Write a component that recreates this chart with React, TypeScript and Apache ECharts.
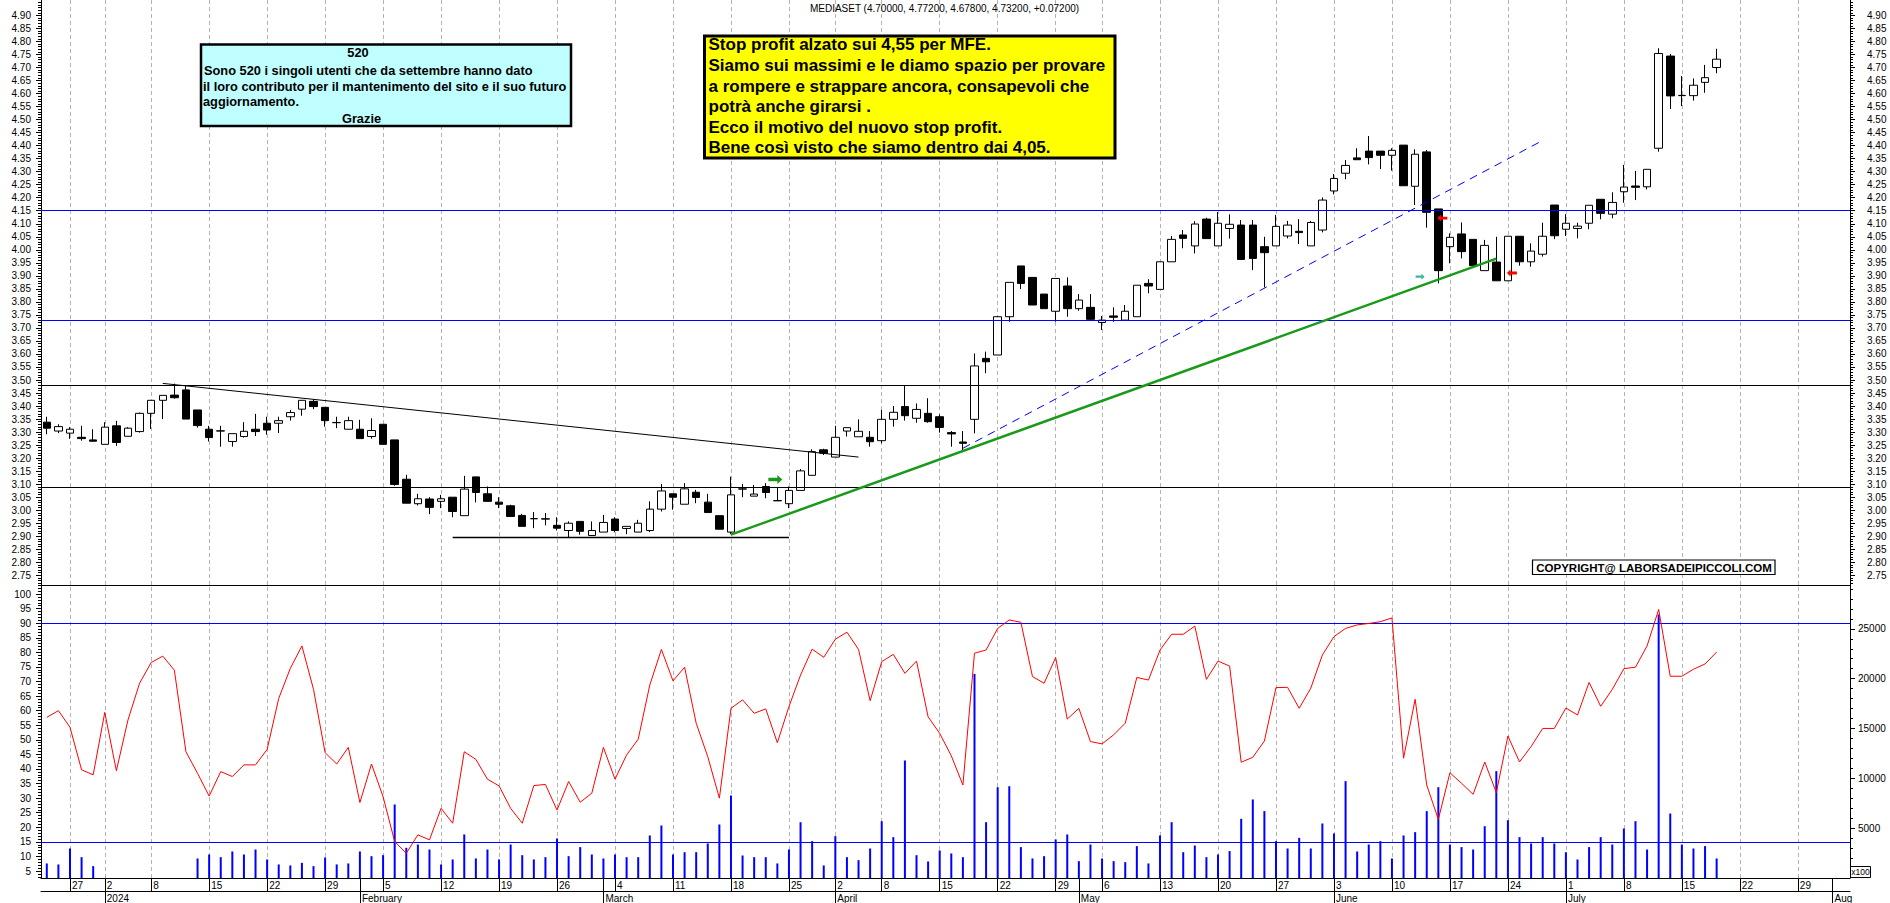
import React, { useEffect, useRef } from 'react';
import * as echarts from 'echarts';

const FONT = "'Liberation Sans', Arial, Helvetica, sans-serif";

// ---------- categories: Borsa Italiana trading days ----------
const tradingDays: [string, number[]][] = [
  ['2023-12', [21, 22, 27, 28, 29]],
  ['2024-01', [2, 3, 4, 5, 8, 9, 10, 11, 12, 15, 16, 17, 18, 19, 22, 23, 24, 25, 26, 29, 30, 31]],
  ['2024-02', [1, 2, 5, 6, 7, 8, 9, 12, 13, 14, 15, 16, 19, 20, 21, 22, 23, 26, 27, 28, 29]],
  ['2024-03', [1, 4, 5, 6, 7, 8, 11, 12, 13, 14, 15, 18, 19, 20, 21, 22, 25, 26, 27, 28]],
  ['2024-04', [2, 3, 4, 5, 8, 9, 10, 11, 12, 15, 16, 17, 18, 19, 22, 23, 24, 25, 26, 29, 30]],
  ['2024-05', [2, 3, 6, 7, 8, 9, 10, 13, 14, 15, 16, 17, 20, 21, 22, 23, 24, 27, 28, 29, 30, 31]],
  ['2024-06', [3, 4, 5, 6, 7, 10, 11, 12, 13, 14, 17, 18, 19, 20, 21, 24, 25, 26, 27, 28]],
  ['2024-07', [1, 2, 3, 4, 5, 8, 9, 10, 11, 12, 15, 16, 17, 18, 19, 22, 23, 24, 25, 26, 29, 30, 31]],
  ['2024-08', [1, 2]],
];

const monthLabels: Record<string, string> = {
  '01': '2024', '02': 'February', '03': 'March', '04': 'April',
  '05': 'May', '06': 'June', '07': 'July', '08': 'Aug',
};

// ---------- price data (MEDIASET) ----------
const opens = [
  3.338, 3.304, 3.296, 3.280, 3.270, 3.253, 3.324, 3.284, 3.302, 3.372,
  3.422, 3.442, 3.462, 3.385, 3.311, 3.304, 3.264, 3.283, 3.311, 3.334,
  3.334, 3.359, 3.388, 3.418, 3.395, 3.336, 3.311, 3.311, 3.283, 3.330,
  3.270, 3.119, 3.025, 3.043, 3.034, 3.050, 2.979, 3.128, 3.063, 3.031,
  3.017, 2.980, 2.967, 2.967, 2.942, 2.922, 2.957, 2.903, 2.916, 2.966,
  2.930, 2.916, 2.922, 3.004, 3.063, 3.023, 3.069, 3.031, 2.979, 2.916,
  3.081, 3.054, 3.091, 3.036, 3.025, 3.076, 3.134, 3.232, 3.204, 3.304,
  3.282, 3.280, 3.267, 3.349, 3.398, 3.353, 3.372, 3.359, 3.298, 3.262,
  3.349, 3.583, 3.596, 3.743, 3.938, 3.894, 3.830, 3.764, 3.861, 3.774,
  3.779, 3.721, 3.746, 3.730, 3.743, 3.871, 3.848, 3.954, 4.057, 4.015,
  4.118, 4.015, 4.082, 4.095, 4.095, 4.012, 4.015, 4.053, 4.071, 4.015,
  4.076, 4.226, 4.294, 4.353, 4.379, 4.379, 4.363, 4.402, 4.244, 4.376,
  4.157, 4.012, 4.061, 4.040, 3.920, 3.953, 3.881, 4.052, 3.954, 3.983,
  4.172, 4.079, 4.082, 4.102, 4.194, 4.137, 4.223, 4.245, 4.242, 4.390,
  4.744, 4.592, 4.592, 4.643, 4.700,
];
const highs = [
  3.359, 3.330, 3.319, 3.324, 3.311, 3.338, 3.343, 3.319, 3.375, 3.422,
  3.441, 3.486, 3.478, 3.385, 3.324, 3.324, 3.294, 3.338, 3.370, 3.359,
  3.359, 3.385, 3.422, 3.426, 3.395, 3.359, 3.359, 3.347, 3.353, 3.330,
  3.270, 3.136, 3.063, 3.050, 3.059, 3.050, 3.132, 3.128, 3.091, 3.050,
  3.021, 2.986, 2.993, 2.989, 2.973, 2.957, 2.957, 2.957, 2.982, 2.973,
  2.938, 2.963, 3.034, 3.101, 3.063, 3.104, 3.078, 3.063, 2.979, 3.129,
  3.101, 3.097, 3.104, 3.087, 3.091, 3.158, 3.234, 3.236, 3.324, 3.317,
  3.349, 3.304, 3.385, 3.400, 3.478, 3.410, 3.430, 3.368, 3.304, 3.304,
  3.602, 3.609, 3.746, 3.875, 3.938, 3.894, 3.830, 3.890, 3.894, 3.830,
  3.830, 3.746, 3.779, 3.788, 3.864, 3.887, 3.954, 4.053, 4.076, 4.110,
  4.123, 4.145, 4.136, 4.114, 4.114, 4.050, 4.134, 4.111, 4.118, 4.111,
  4.201, 4.291, 4.345, 4.390, 4.437, 4.379, 4.390, 4.402, 4.386, 4.383,
  4.157, 4.063, 4.105, 4.040, 4.038, 4.050, 4.052, 4.052, 4.025, 4.104,
  4.172, 4.137, 4.104, 4.171, 4.194, 4.221, 4.326, 4.303, 4.309, 4.774,
  4.752, 4.667, 4.658, 4.710, 4.772,
];
const lows = [
  3.292, 3.296, 3.274, 3.267, 3.264, 3.253, 3.247, 3.284, 3.298, 3.312,
  3.350, 3.428, 3.350, 3.317, 3.264, 3.244, 3.244, 3.279, 3.285, 3.290,
  3.296, 3.344, 3.363, 3.388, 3.321, 3.315, 3.311, 3.275, 3.275, 3.253,
  3.094, 3.027, 3.018, 2.985, 3.008, 2.973, 2.979, 3.030, 3.034, 3.008,
  2.976, 2.938, 2.931, 2.942, 2.922, 2.897, 2.906, 2.903, 2.916, 2.915,
  2.908, 2.916, 2.916, 2.995, 3.002, 3.023, 3.027, 2.991, 2.927, 2.908,
  3.050, 3.054, 3.046, 3.036, 3.008, 3.076, 3.134, 3.212, 3.204, 3.283,
  3.282, 3.244, 3.257, 3.321, 3.344, 3.336, 3.336, 3.298, 3.244, 3.231,
  3.295, 3.526, 3.596, 3.724, 3.849, 3.788, 3.774, 3.724, 3.743, 3.766,
  3.728, 3.692, 3.724, 3.730, 3.743, 3.833, 3.848, 3.954, 4.006, 3.986,
  4.043, 4.015, 4.043, 3.963, 3.922, 3.856, 4.015, 4.044, 4.022, 4.015,
  4.067, 4.213, 4.271, 4.346, 4.328, 4.310, 4.304, 4.246, 4.172, 4.085,
  3.871, 3.948, 3.967, 3.939, 3.920, 3.881, 3.881, 3.939, 3.935, 3.974,
  4.041, 4.053, 4.044, 4.079, 4.117, 4.121, 4.181, 4.191, 4.232, 4.377,
  4.541, 4.552, 4.573, 4.603, 4.678,
];
const closes = [
  3.315, 3.321, 3.311, 3.275, 3.265, 3.319, 3.260, 3.315, 3.372, 3.422,
  3.441, 3.432, 3.350, 3.325, 3.279, 3.305, 3.294, 3.303, 3.302, 3.308,
  3.344, 3.375, 3.422, 3.398, 3.344, 3.337, 3.344, 3.275, 3.306, 3.253,
  3.099, 3.027, 3.044, 3.011, 3.044, 2.995, 3.081, 3.068, 3.034, 3.023,
  2.976, 2.938, 2.968, 2.966, 2.931, 2.950, 2.919, 2.922, 2.953, 2.922,
  2.938, 2.950, 3.004, 3.074, 3.050, 3.082, 3.049, 2.991, 2.927, 3.059,
  3.082, 3.062, 3.068, 3.037, 3.076, 3.151, 3.225, 3.219, 3.280, 3.317,
  3.303, 3.263, 3.349, 3.376, 3.363, 3.387, 3.340, 3.318, 3.293, 3.257,
  3.554, 3.570, 3.743, 3.875, 3.871, 3.788, 3.774, 3.890, 3.774, 3.807,
  3.733, 3.730, 3.741, 3.764, 3.864, 3.861, 3.954, 4.040, 4.044, 4.099,
  4.043, 4.102, 4.098, 3.963, 3.967, 3.989, 4.090, 4.095, 4.066, 4.105,
  4.191, 4.274, 4.324, 4.346, 4.354, 4.363, 4.382, 4.246, 4.367, 4.144,
  3.920, 4.048, 3.993, 3.939, 4.017, 3.881, 4.052, 3.954, 3.995, 4.052,
  4.054, 4.102, 4.091, 4.171, 4.140, 4.182, 4.241, 4.240, 4.309, 4.754,
  4.591, 4.593, 4.632, 4.661, 4.732,
];

// ---------- indicator data ----------
const rsi = [
  57.7, 60, 54.3, 39.7, 38, 59.4, 39.4, 56.8, 69.4, 76.5,
  78.7, 73.9, 45.9, 38.5, 30.7, 39.1, 37.4, 41.4, 41.4, 46.7,
  64.2, 74.5, 82.2, 67.3, 45.6, 41.7, 47.4, 28.5, 41.7, 30.5,
  15.1, 11.1, 17.4, 15.7, 26.5, 21.4, 45.9, 43.3, 36.5, 34.2,
  26.5, 21.4, 34.3, 34.7, 25.9, 35.7, 28.6, 31.7, 47.4, 36.5,
  44.8, 50.2, 68.8, 81, 70.2, 74.9, 55.7, 44.2, 30, 60.8,
  63.7, 59.1, 60.6, 49, 61.4, 72.2, 81.1, 78.3, 84.5, 86.9,
  81, 63.4, 76.8, 79.3, 72.8, 77, 57.9, 52.2, 44.5, 34.5,
  79.7, 80.8, 88.2, 91.1, 90.3, 71.7, 69.4, 78.2, 57.1, 60.8,
  49.4, 48.6, 51.7, 55.7, 71.4, 70.5, 80.8, 86.2, 86.2, 89,
  70.7, 77, 75.3, 42.3, 44, 49.6, 67.9, 68, 60.8, 67.7,
  79.1, 85.4, 88.2, 89.4, 89.9, 90.5, 91.8, 43.7, 63.9, 34.5,
  22.7, 38.7, 35.1, 31.3, 42.4, 31.9, 51.3, 42.4, 47.7, 53.9,
  53.9, 60.9, 58.5, 69.7, 61.5, 67.3, 74.4, 74.9, 82.2, 94.7,
  71.8, 71.8, 74.2, 76, 80.1,
];
const volume = [
  1460, 1360, 2960, 2090, 1190, null, null, null, null, null,
  null, null, null, 1960, 2360, 2090, 2660, 2360, 2860, 1860,
  1360, 1260, 1520, 1190, 2060, 1360, 1460, 2660, 2190, 2290,
  7380, 3030, 3360, 2860, 1360, 1860, 4370, 1960, 2860, 1860,
  3360, 2290, 1860, 2090, 3970, 2190, 3100, 2360, 1960, 2360,
  2090, 2090, 4270, 5270, 2360, 2590, 2590, 3460, 5370, 8280,
  2260, 2090, 2090, 1460, 2860, 5600, 3700, 1260, 4200, 2090,
  1790, 2960, 5700, 4100, 11790, 2290, 1660, 2760, 2460, 2090,
  20480, 5600, 9110, 9210, 3100, 1960, 2190, 3870, 4370, 1690,
  3360, 1960, 1690, 1590, 3200, 1460, 4270, 5600, 2590, 3260,
  2090, 2360, 2700, 5940, 7880, 6710, 3700, 2960, 4030, 2960,
  5470, 4470, 9720, 2660, 3360, 3700, 1960, 4270, 4600, 6710,
  9110, 3360, 3100, 2860, 5200, 10720, 5800, 4100, 3460, 4100,
  3460, 2590, 1860, 3100, 4100, 3360, 4970, 5700, 2860, 26430,
  6470, 3360, 2960, 3200, 1960,
];

// ---------- drawn levels / trendlines (index, price) ----------
const blueLevels = [4.149, 3.735];
const blackLevels = [3.481, 3.094];
const resistanceLine: [number, number][] = [[10, 3.487], [70, 3.204]];
const supportLine: [number, number][] = [[35, 2.897], [64, 2.897]];
const uptrendLine: [number, number][] = [[59, 2.906], [125, 3.966]];
const channelLine: [number, number][] = [[79, 3.238], [129, 4.42]];
const rsiLevels = [90, 15];
const arrows = [
  { i: 63, v: 3.118, dir: 'right', color: '#1a9a1a', size: [14, 9], off: [-2, 0] },
  { i: 118, v: 3.897, dir: 'right', color: '#3cb4a0', size: [9, 6], off: [5, 0] },
  { i: 120, v: 4.122, dir: 'left', color: '#ff0000', size: [10, 7], off: [4, 0] },
  { i: 126, v: 3.911, dir: 'left', color: '#ff0000', size: [10, 7], off: [4, 0] },
];

// ---------- tick labels ----------
const priceTicks = [
  2.75, 2.8, 2.85, 2.9, 2.95, 3, 3.05, 3.1, 3.15, 3.2, 3.25, 3.3, 3.35, 3.4, 3.45,
  3.5, 3.55, 3.6, 3.65, 3.7, 3.75, 3.8, 3.85, 3.9, 3.95, 4, 4.05, 4.1, 4.15, 4.2,
  4.25, 4.3, 4.35, 4.4, 4.45, 4.5, 4.55, 4.6, 4.65, 4.7, 4.75, 4.8, 4.85, 4.9,
];
const rsiTicks = [5, 10, 15, 20, 25, 30, 35, 40, 45, 50, 55, 60, 65, 70, 75, 80, 85, 90, 95, 100];
const volTicks = [5000, 10000, 15000, 20000, 25000];

// axis ranges matching the panel geometry
const PMIN = 2.7128, PMAX = 4.9593;
const RMIN = 2.61, RMAX = 103.09;
const VMIN = 0, VMAX = 29400;

const priceMinor: number[] = [];
for (let k = 272; k <= 495; k++) priceMinor.push(k / 100);
const rsiMinor: number[] = [];
for (let k = 3; k <= 103; k++) rsiMinor.push(k);
const volMinor: number[] = [];
for (let k = 1; k <= 29; k++) volMinor.push(k * 1000);

const categories: string[] = [];
tradingDays.forEach(([ym, days]) =>
  days.forEach((d) => categories.push(`${ym}-${String(d).padStart(2, '0')}`))
);
const toDate = (s: string) => new Date(s + 'T00:00:00Z');
const isWeekStart = categories.map((c, i) => {
  if (i === 0) return false;
  const a = toDate(categories[i - 1]);
  const b = toDate(c);
  return b.getUTCDay() <= a.getUTCDay() || b.getTime() - a.getTime() >= 7 * 864e5;
});
const isMonthStart = categories.map((c, i) => i > 0 && c.slice(5, 7) !== categories[i - 1].slice(5, 7));
const weekIdx = categories.map((_, i) => i).filter((i) => isWeekStart[i]);

const RIGHT_ARROW = 'path://M0,3 L9,3 L9,0 L14,5 L9,10 L9,7 L0,7 Z';
const LEFT_ARROW = 'path://M14,3 L5,3 L5,0 L0,5 L5,10 L5,7 L14,7 Z';

function buildOption(): any {
  const gridDash = { color: '#b4b4b4', width: 1, type: [4, 3] };
  const vLines = weekIdx.map((i) => ({ xAxis: categories[i] }));
  const nulls = categories.map(() => null);
  const seg = (pts: [number, number][], ls: any) => [
    { coord: [categories[pts[0][0]], pts[0][1]], lineStyle: ls },
    { coord: [categories[pts[1][0]], pts[1][1]], lineStyle: ls },
  ];

  const yMain = (grid: number, pos: string, min: number, max: number, ticks: number[], margin: number, fmt: (v: number) => string) => ({
    type: 'value', gridIndex: grid, position: pos, min, max,
    axisLine: { show: true, onZero: false, lineStyle: { color: '#000', width: 1 } },
    axisTick: { show: true, length: 5, customValues: ticks, lineStyle: { color: '#000', width: 1 } },
    axisLabel: { show: true, customValues: ticks, margin, fontSize: 10, color: '#000', fontFamily: FONT, formatter: fmt },
    splitLine: { show: false },
  });
  const yMinor = (grid: number, pos: string, min: number, max: number, ticks: number[]) => ({
    type: 'value', gridIndex: grid, position: pos, min, max,
    axisLine: { show: false, onZero: false },
    axisTick: { show: true, length: 3, customValues: ticks, lineStyle: { color: '#000', width: 1 } },
    axisLabel: { show: false },
    splitLine: { show: false },
  });
  const priceFmt = (v: number) => v.toFixed(2);
  const intFmt = (v: number) => String(Math.round(v));

  const txt = (text: string, x: number, y: number, size: number, weight: string, align = 'left', family = FONT) => ({
    type: 'text', z: 101, silent: true,
    style: { text, x, y, fill: '#000', fontSize: size, fontWeight: weight, fontFamily: family, align, verticalAlign: 'middle', textAlign: align, textVerticalAlign: 'middle' },
  });

  const yellowLines = [
    'Stop profit alzato sui 4,55 per MFE.',
    'Siamo sui massimi e le diamo spazio per provare',
    'a rompere e strappare ancora, consapevoli che',
    'potrà anche girarsi .',
    'Ecco il motivo del nuovo stop profit.',
    'Bene così visto che siamo dentro dai 4,05.',
  ];
  const yellowY = [44, 65.5, 86, 106.5, 127, 147.5];

  const gridMarkLine = {
    silent: true, z: 0, zlevel: 0, symbol: ['none', 'none'], label: { show: false },
    lineStyle: gridDash, data: vLines,
  };

  return {
    animation: false,
    textStyle: { fontFamily: FONT },
    grid: [
      { left: 41, right: 40, top: 0, height: 585, containLabel: false, outerBoundsMode: 'none' },
      { left: 41, right: 40, top: 585, height: 293, containLabel: false, outerBoundsMode: 'none' },
    ],
    xAxis: [
      {
        type: 'category', gridIndex: 0, data: categories, boundaryGap: true, position: 'bottom',
        axisLine: { show: true, onZero: false, lineStyle: { color: '#000', width: 1 } },
        axisTick: { show: false }, axisLabel: { show: false }, splitLine: { show: false },
      },
      {
        type: 'category', gridIndex: 1, data: categories, boundaryGap: true, position: 'bottom',
        axisLine: { show: true, onZero: false, lineStyle: { color: '#000', width: 1 } },
        axisTick: {
          show: true, alignWithLabel: true, length: 13, lineStyle: { color: '#000', width: 1 },
          interval: (i: number) => isWeekStart[i] || isMonthStart[i],
        },
        axisLabel: {
          show: true, interval: (i: number) => isWeekStart[i], align: 'left', margin: 2,
          padding: [0, 0, 0, 2], fontSize: 10, color: '#000', fontFamily: FONT,
          formatter: (v: string) => String(Number(v.slice(8, 10))),
        },
        splitLine: { show: false },
      },
      {
        type: 'category', gridIndex: 1, data: categories, boundaryGap: true, position: 'bottom', offset: 13,
        axisLine: { show: true, onZero: false, lineStyle: { color: '#000', width: 1 } },
        axisTick: {
          show: true, alignWithLabel: true, length: 13, lineStyle: { color: '#000', width: 1 },
          interval: (i: number) => isMonthStart[i],
        },
        axisLabel: {
          show: true, interval: (i: number) => isMonthStart[i], align: 'left', margin: 2,
          padding: [0, 0, 0, 2], fontSize: 10, color: '#000', fontFamily: FONT,
          formatter: (v: string) => monthLabels[v.slice(5, 7)] || '',
        },
        splitLine: { show: false },
      },
    ],
    yAxis: [
      yMain(0, 'left', PMIN, PMAX, priceTicks, 10, priceFmt),
      yMinor(0, 'left', PMIN, PMAX, priceMinor),
      yMain(0, 'right', PMIN, PMAX, priceTicks, 17, priceFmt),
      yMinor(0, 'right', PMIN, PMAX, priceMinor),
      yMain(1, 'left', RMIN, RMAX, rsiTicks, 10, intFmt),
      yMinor(1, 'left', RMIN, RMAX, rsiMinor),
      yMain(1, 'right', VMIN, VMAX, volTicks, 8, intFmt),
      yMinor(1, 'right', VMIN, VMAX, volMinor),
    ],
    series: [
      {
        name: 'grid-top', type: 'line', xAxisIndex: 0, yAxisIndex: 0, data: nulls, symbol: 'none', silent: true, z: 0,
        markLine: gridMarkLine,
      },
      {
        name: 'MEDIASET', type: 'candlestick', xAxisIndex: 0, yAxisIndex: 0, z: 3, barWidth: 8,
        data: opens.map((o, i) => [o, closes[i], lows[i], highs[i]]),
        itemStyle: {
          color: '#ffffff', color0: '#000000', borderColor: '#000000', borderColor0: '#000000',
          borderColorDoji: '#000000', borderWidth: 1,
        },
        emphasis: { disabled: true },
        markLine: {
          silent: true, symbol: ['none', 'none'], label: { show: false },
          data: [
            ...blueLevels.map((v) => ({ yAxis: v, lineStyle: { color: '#0000ff', width: 1, type: 'solid' } })),
            ...blackLevels.map((v) => ({ yAxis: v, lineStyle: { color: '#000000', width: 1, type: 'solid' } })),
            seg(resistanceLine, { color: '#000000', width: 1, type: 'solid' }),
            seg(supportLine, { color: '#000000', width: 1.3, type: 'solid' }),
            seg(uptrendLine, { color: '#1a9a1a', width: 2.5, type: 'solid' }),
            seg(channelLine, { color: '#0000ff', width: 1, type: [8, 6] }),
          ],
        },
        markPoint: {
          silent: true, label: { show: false },
          data: arrows.map((a) => ({
            coord: [categories[a.i], a.v],
            symbol: a.dir === 'right' ? RIGHT_ARROW : LEFT_ARROW,
            symbolSize: a.size, symbolOffset: a.off, symbolKeepAspect: false,
            itemStyle: { color: a.color },
          })),
        },
      },
      {
        name: 'grid-bottom', type: 'line', xAxisIndex: 1, yAxisIndex: 4, data: nulls, symbol: 'none', silent: true, z: 0,
        markLine: gridMarkLine,
      },
      {
        name: 'Volume', type: 'bar', xAxisIndex: 1, yAxisIndex: 6, data: volume, barWidth: 2, silent: true, z: 6,
        itemStyle: { color: '#0000ff' },
      },
      {
        name: 'RSI', type: 'line', xAxisIndex: 1, yAxisIndex: 4, data: rsi, symbol: 'none', silent: true, z: 7,
        lineStyle: { color: '#ff0000', width: 1 },
        markLine: {
          silent: true, symbol: ['none', 'none'], label: { show: false },
          lineStyle: { color: '#0000ff', width: 1, type: 'solid' },
          data: rsiLevels.map((v) => ({ yAxis: v })),
        },
      },
    ],
    graphic: {
      elements: [
        txt('MEDIASET (4.70000, 4.77200, 4.67800, 4.73200, +0.07200)', 944.5, 8.5, 10, 'normal', 'center'),
        // cyan box
        { type: 'rect', z: 100, silent: true, shape: { x: 201, y: 44.5, width: 370, height: 81.5 }, style: { fill: '#c0ffff', stroke: '#000', lineWidth: 2.5 } },
        txt('520', 358, 52.5, 12.8, 'bold', 'center'),
        txt('Sono 520 i singoli utenti che da settembre hanno dato', 204, 70, 12.8, 'bold'),
        txt('il loro contributo per il mantenimento del sito e il suo futuro', 203, 86, 12.8, 'bold'),
        txt('aggiornamento.', 203, 101.7, 12.8, 'bold'),
        txt('Grazie', 361.5, 118.3, 12.8, 'bold', 'center'),
        // yellow box
        { type: 'rect', z: 100, silent: true, shape: { x: 704.5, y: 36, width: 410.5, height: 122 }, style: { fill: '#ffff00', stroke: '#000', lineWidth: 3 } },
        ...yellowLines.map((t, k) => txt(t, 708.5, yellowY[k], 17, 'bold')),
        // copyright
        { type: 'rect', z: 100, silent: true, shape: { x: 1532.5, y: 560, width: 242.5, height: 14.5 }, style: { fill: '#ffffff', stroke: '#000', lineWidth: 1.2 } },
        txt('COPYRIGHT@ LABORSADEIPICCOLI.COM', 1654, 567.5, 11.5, 'bold', 'center'),
        // x100 box
        { type: 'rect', z: 100, silent: true, shape: { x: 1850.5, y: 866.5, width: 20, height: 11 }, style: { fill: '#ffffff', stroke: '#000', lineWidth: 1 } },
        txt('x100', 1860.5, 872.2, 8.5, 'normal', 'center'),
      ],
    },
  };
}

export default function App() {
  const ref = useRef<HTMLDivElement>(null);
  useEffect(() => {
    document.body.style.margin = '0';
    if (!ref.current) return;
    const chart = echarts.init(ref.current, null, { renderer: 'svg' });
    chart.setOption(buildOption());
    return () => chart.dispose();
  }, []);
  return <div ref={ref} style={{ width: 1890, height: 903, background: '#ffffff' }} />;
}
